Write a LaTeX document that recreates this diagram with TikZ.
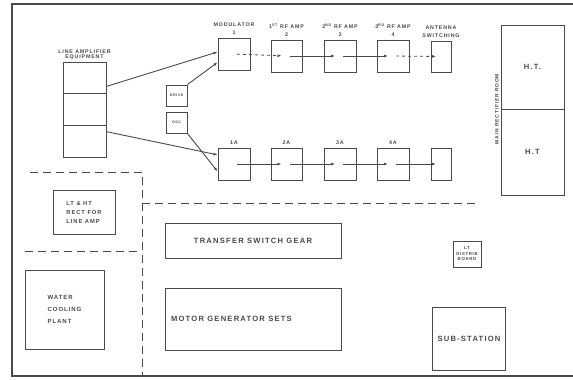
\documentclass[tikz,border=0pt]{standalone}
\usepackage{fontspec}
\usepackage{tikz}
\usetikzlibrary{arrows.meta,positioning,calc}
\newfontfamily\plantfont[LetterSpace=16]{Liberation Sans}
\definecolor{ink}{HTML}{4A4A4A}

\begin{document}
\begin{tikzpicture}[x=1pt, y=-1pt, font=\plantfont\bfseries, color=ink,
  unit/.style={draw=ink, line width=1pt, inner sep=0pt},
  tag/.style={font=\plantfont\bfseries\fontsize{5.3}{6.5}\selectfont, align=center, inner sep=0.5pt},
  txt/.style={font=\plantfont\bfseries\fontsize{7.6}{10}\selectfont},
  flow/.style={-{Latex[length=4pt,width=3pt]}, line width=0.8pt, shorten <=3pt, shorten >=5pt},
  feed/.style={-{Latex[length=4pt,width=3pt]}, line width=0.9pt},
  zone/.style={dashed, dash pattern=on 8pt off 5pt, line width=0.9pt}]
\useasboundingbox (0,0) rectangle (573,380);
\fill[white] (0,0) rectangle (573,380);
% building outline
\draw[line width=1.3pt] (573,4) -- (12,4) -- (12,376) -- (573,376);

% line amplifier
\node[unit, minimum width=43pt, minimum height=31pt] (lae1) at (84.5,77.5) {};
\node[unit, minimum width=43pt, minimum height=32pt] (lae2) at (84.5,109) {};
\node[unit, minimum width=43pt, minimum height=32pt] (lae3) at (84.5,141) {};
\node[tag, above=1.5pt of lae1] (laelab) {LINE AMPLIFIER\\[-1.5pt]EQUIPMENT};

\node[unit, minimum width=21pt, minimum height=21pt, tag, font=\plantfont\bfseries\fontsize{3.6}{4}\selectfont] (sb1) at (176.5,95.5) {DRIVE};
\node[unit, minimum width=21pt, minimum height=21pt, tag, font=\plantfont\bfseries\fontsize{3.6}{4}\selectfont] (sb2) at (176.5,122.5) {OSC};

% transmitter chains
\node[unit, minimum width=32pt, minimum height=32pt] (mod) at (234,54) {};
\node[unit, minimum width=31pt, minimum height=32pt] (rf1) at (286.5,56) {};
\node[unit, minimum width=32pt, minimum height=32pt] (rf2) at (340,56) {};
\node[unit, minimum width=32pt, minimum height=32pt] (rf3) at (393,56) {};
\node[unit, minimum width=20pt, minimum height=31pt] (ant) at (441,56.5) {};
\node[tag, above=2pt of mod] (modlab) {MODULATOR\\[2pt]1};
\node[tag, above=2pt of rf1] (rf1lab) {1\textsuperscript{ST} RF AMP\\[2pt]2};
\node[tag, above=2pt of rf2] (rf2lab) {2\textsuperscript{ND} RF AMP\\[2pt]3};
\node[tag, above=2pt of rf3] (rf3lab) {3\textsuperscript{RD} RF AMP\\[2pt]4};
\node[tag, above=2pt of ant] (antlab) {ANTENNA\\[2pt]SWITCHING};

\node[unit, minimum width=32pt, minimum height=32pt] (a1) at (234,164) {};
\node[unit, minimum width=31pt, minimum height=32pt] (a2) at (286.5,164) {};
\node[unit, minimum width=32pt, minimum height=32pt] (a3) at (340,164) {};
\node[unit, minimum width=32pt, minimum height=32pt] (a4) at (393,164) {};
\node[unit, minimum width=20pt, minimum height=32pt] (a5) at (441,164) {};
\node[tag, above=2pt of a1] (a1lab) {1A};
\node[tag, above=2pt of a2] (a2lab) {2A};
\node[tag, above=2pt of a3] (a3lab) {3A};
\node[tag, above=2pt of a4] (a4lab) {4A};

\draw[feed] (lae1.-22) -- (mod.173);
\draw[feed] (lae3.23) -- (a1.151);
\draw[feed] (sb1.north east) -- (mod.207);
\draw[feed] (sb2.south east) -- (a1.204);

\draw[flow, dashed] (mod.center) -- (rf1.center);
\draw[flow] (rf1.center) -- (rf2.center);
\draw[flow] (rf2.center) -- (rf3.center);
\draw[flow, dashed] (rf3.center) -- (ant.center);
\foreach \p/\q in {a1/a2, a2/a3, a3/a4, a4/a5}
  \draw[flow] (\p.center) -- (\q.center);

% H.T. rectifiers
\node[unit, minimum width=63pt, minimum height=84pt, txt] (ht1) at (532.5,67) {H.T.};
\node[unit, minimum width=63pt, minimum height=86pt, txt] (ht2) at (532.5,152) {H.T};
\node[tag, rotate=90, font=\plantfont\bfseries\fontsize{5}{6}\selectfont] (htlab) at (497,109) {MAIN\ RECTIFIER\ ROOM};

% dashed zones
\coordinate (z1) at (30,172);
\coordinate (z2) at (142,172);
\coordinate (z3) at (142,376);
\draw[zone] (z1) -- (z2) -- (z3);
\draw[zone] (142,203) -- (478,203);
\draw[zone] (25,251) -- (142,251);

% lower plant
\node[unit, minimum width=62pt, minimum height=44pt, tag, align=left, font=\plantfont\bfseries\fontsize{5.8}{9}\selectfont] (ltht) at (84,212) {LT \& HT\\RECT FOR\\LINE AMP};
\node[unit, minimum width=79pt, minimum height=79pt, txt, align=left, font=\plantfont\bfseries\fontsize{6}{12}\selectfont] (wcp) at (64.5,309.5) {WATER\\COOLING\\PLANT};
\node[unit, minimum width=176pt, minimum height=35pt, txt] (tsg) at (253,240.5) {TRANSFER SWITCH GEAR};
\node[unit, minimum width=176pt, minimum height=62pt] (mgs) at (253,319) {};
\node[txt, anchor=west] (mgslab) at ([xshift=3pt]mgs.west) {MOTOR GENERATOR SETS};
\node[unit, minimum width=28pt, minimum height=26pt, tag, font=\plantfont\bfseries\fontsize{4.3}{5.5}\selectfont] (ltd) at (467,254) {LT\\DISTRIB\\BOARD};
\node[unit, minimum width=73pt, minimum height=63pt, txt] (sub) at (469,338.5) {SUB-STATION};
\end{tikzpicture}
\end{document}
